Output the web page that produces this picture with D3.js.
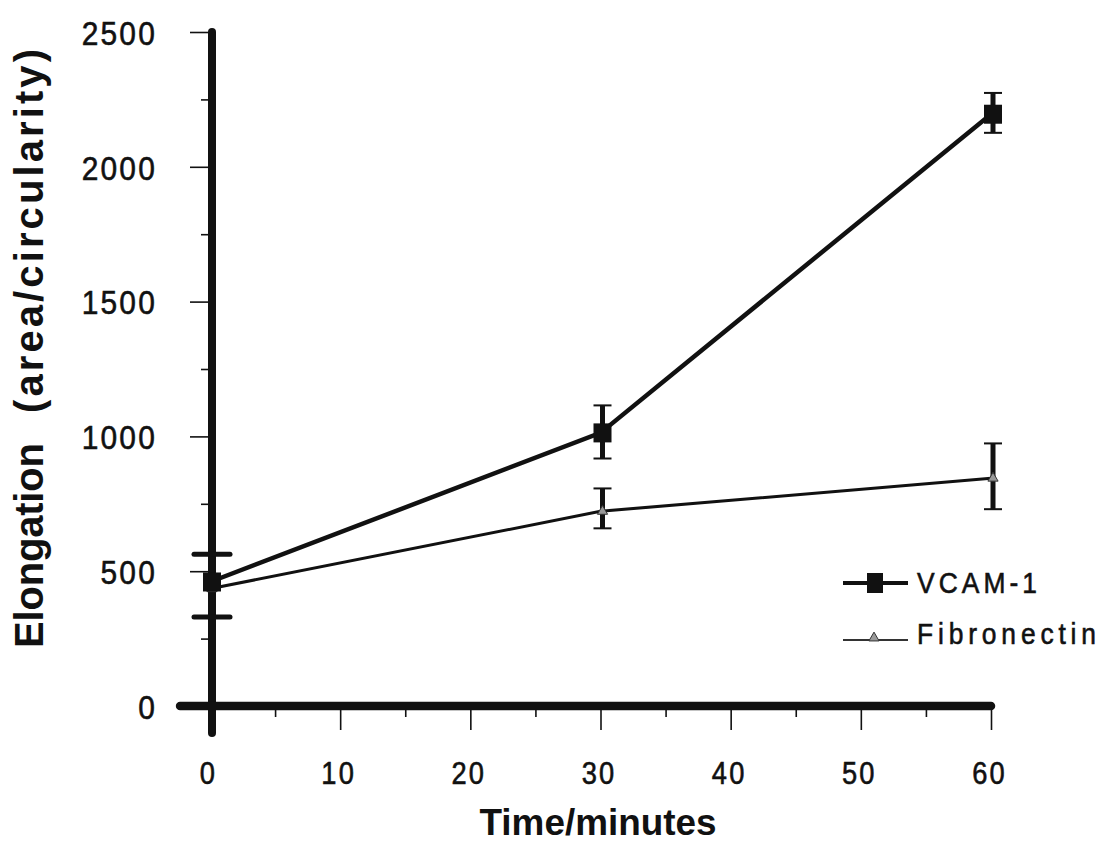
<!DOCTYPE html>
<html>
<head>
<meta charset="utf-8">
<script src="https://cdn.jsdelivr.net/npm/d3@7/dist/d3.min.js"></script>
<style>
  html, body { margin: 0; padding: 0; background: #fff; }
  svg { display: block; }
  .num { font-family: "Liberation Sans", Arial, sans-serif; fill: #111; stroke: #111; stroke-width: 0.6px; }
  .ttl { font-family: "Liberation Sans", Arial, sans-serif; font-weight: bold; fill: #111; }
</style>
</head>
<body>
<svg id="chart" width="1097" height="851"></svg>
<script>
// ---- data ----
const times = [0, 30, 60];
const vcam = [460, 1013, 2195];
const vcamLo = [330, 918, 2126];
const vcamHi = [563, 1115, 2274];
const fibronectin = [435, 722, 845];
const fibLo = [null, 659, 730];
const fibHi = [null, 807, 974];
const seriesNames = ["VCAM-1", "Fibronectin"];
const xTicks = [0, 10, 20, 30, 40, 50, 60];
const xMinorTicks = [5, 15, 25, 35, 45, 55];
const yTicks = [0, 500, 1000, 1500, 2000, 2500];
const yMinorTicks = [250, 750, 1250, 1750, 2250];
const xTitle = "Time/minutes";
const yTitleA = "Elongation";
const yTitleB = "(area/circularity)";

const svg = d3.select("#chart");
const x = d3.scaleLinear().domain([0, 60]).range([210, 991]);
const y = d3.scaleLinear().domain([0, 2500]).range([706, 32]);
const ink = "#111";
const sx = 0.88; // horizontal condensing of the narrow typeface

// ---- y axis ticks ----
const yMajor = d3.axisLeft(y).tickValues(yTicks).tickSize(22).tickPadding(33).tickFormat(d3.format("d"));
const yMinor = d3.axisLeft(y).tickValues(yMinorTicks).tickSize(11).tickFormat("");
const gy = svg.append("g").attr("transform", `translate(${x(0) + 2},0)`);
gy.call(yMajor);
const gy2 = svg.append("g").attr("transform", `translate(${x(0) + 2},0)`);
gy2.call(yMinor);
[gy, gy2].forEach(g => {
  g.select(".domain").remove();
  g.selectAll(".tick line").attr("stroke", ink).attr("stroke-width", 1.6);
});
gy.selectAll(".tick text").attr("class", "num").attr("font-size", 34)
  .attr("letter-spacing", 2.5).attr("dy", "0.36em").attr("fill", ink)
  .attr("x", -55 / sx).attr("transform", `scale(${sx},1)`);

// ---- x axis ticks ----
const xMajor = d3.axisBottom(x).tickValues(xTicks).tickSize(24).tickPadding(32).tickFormat(d3.format("d"));
const xMinor = d3.axisBottom(x).tickValues(xMinorTicks).tickSize(11).tickFormat("");
const gx = svg.append("g").attr("transform", `translate(0,${y(0)})`);
gx.call(xMajor);
const gx2 = svg.append("g").attr("transform", `translate(0,${y(0)})`);
gx2.call(xMinor);
[gx, gx2].forEach(g => {
  g.select(".domain").remove();
  g.selectAll(".tick line").attr("stroke", ink).attr("stroke-width", 1.6);
});
gx.selectAll(".tick text").attr("class", "num").attr("font-size", 31)
  .attr("letter-spacing", 2.5).attr("dx", -2 / sx).attr("fill", ink)
  .attr("transform", `scale(${sx},1)`);

// ---- thick axis lines ----
svg.append("line")
  .attr("x1", x(0) + 2).attr("x2", x(0) + 2)
  .attr("y1", y(2500)).attr("y2", y(-100))
  .attr("stroke", ink).attr("stroke-width", 8).attr("stroke-linecap", "round");
svg.append("line")
  .attr("x1", x(-2.3)).attr("x2", x(60))
  .attr("y1", y(0)).attr("y2", y(0))
  .attr("stroke", ink).attr("stroke-width", 8.5).attr("stroke-linecap", "round");

// ---- lines ----
const line = d3.line().x(d => x(d[0])).y(d => y(d[1]));
svg.append("path").datum(times.map((t, i) => [t, fibronectin[i]]))
  .attr("d", line).attr("fill", "none").attr("stroke", ink).attr("stroke-width", 3);
svg.append("path").datum(times.map((t, i) => [t, vcam[i]]))
  .attr("d", line).attr("fill", "none").attr("stroke", ink).attr("stroke-width", 4.5);

// ---- error bars ----
function errorBars(lo, hi) {
  times.forEach((t, i) => {
    if (lo[i] == null) return;
    const cx = x(t) + 2;
    const atZero = t === 0;
    const capW = atZero ? 18 : 9;
    const capS = atZero ? 5 : 2;
    svg.append("line").attr("x1", cx).attr("x2", cx)
      .attr("y1", y(lo[i])).attr("y2", y(hi[i]))
      .attr("stroke", ink).attr("stroke-width", 5);
    [lo[i], hi[i]].forEach(v => {
      svg.append("line").attr("x1", cx - capW).attr("x2", cx + capW)
        .attr("y1", y(v)).attr("y2", y(v))
        .attr("stroke", ink).attr("stroke-width", capS)
        .attr("stroke-linecap", atZero ? "round" : "butt");
    });
  });
}
errorBars(fibLo, fibHi);
errorBars(vcamLo, vcamHi);

// ---- markers ----
const tri = d3.symbol().type(d3.symbolTriangle).size(45);
svg.selectAll(".fibm").data(times.map((t, i) => [t, fibronectin[i]])).join("path")
  .attr("transform", d => `translate(${x(d[0]) + 2},${y(d[1])})`)
  .attr("d", tri).attr("fill", "#999").attr("stroke", "#333").attr("stroke-width", 1);
svg.selectAll(".vcm").data(times.map((t, i) => [t, vcam[i]])).join("rect")
  .attr("x", d => x(d[0]) + 2 - 9).attr("y", d => y(d[1]) - 9.5)
  .attr("width", 18).attr("height", 19).attr("fill", ink);

// ---- legend ----
const lg = svg.append("g").attr("transform", "translate(843,583)");
lg.append("line").attr("x1", 0).attr("x2", 65).attr("y1", 0).attr("y2", 0)
  .attr("stroke", ink).attr("stroke-width", 4);
lg.append("rect").attr("x", 24).attr("y", -10).attr("width", 16).attr("height", 20).attr("fill", ink);
lg.append("text").attr("class", "num").attr("x", 74 / sx).attr("y", 10)
  .attr("transform", `scale(${sx},1)`)
  .attr("font-size", 30).attr("textLength", 120 / sx).attr("lengthAdjust", "spacing")
  .text(seriesNames[0]);
lg.append("line").attr("x1", 0).attr("x2", 65).attr("y1", 57).attr("y2", 57)
  .attr("stroke", "#333").attr("stroke-width", 2);
lg.append("path").attr("transform", "translate(31,55)").attr("d", tri)
  .attr("fill", "#999").attr("stroke", "#333").attr("stroke-width", 1);
lg.append("text").attr("class", "num").attr("x", 74 / sx).attr("y", 61)
  .attr("transform", `scale(${sx},1)`)
  .attr("font-size", 30).attr("textLength", 179 / sx).attr("lengthAdjust", "spacing")
  .text(seriesNames[1]);

// ---- titles ----
svg.append("text").attr("class", "ttl").attr("x", 598).attr("y", 835)
  .attr("text-anchor", "middle").attr("font-size", 36)
  .attr("textLength", 237).attr("lengthAdjust", "spacingAndGlyphs").text(xTitle);
svg.append("text").attr("class", "ttl")
  .attr("transform", "translate(43,648) rotate(-90)")
  .attr("font-size", 40).attr("textLength", 205).attr("lengthAdjust", "spacing").text(yTitleA);
svg.append("text").attr("class", "ttl")
  .attr("transform", "translate(43,413) rotate(-90)")
  .attr("font-size", 40).attr("textLength", 364).attr("lengthAdjust", "spacing").text(yTitleB);
</script>
</body>
</html>
